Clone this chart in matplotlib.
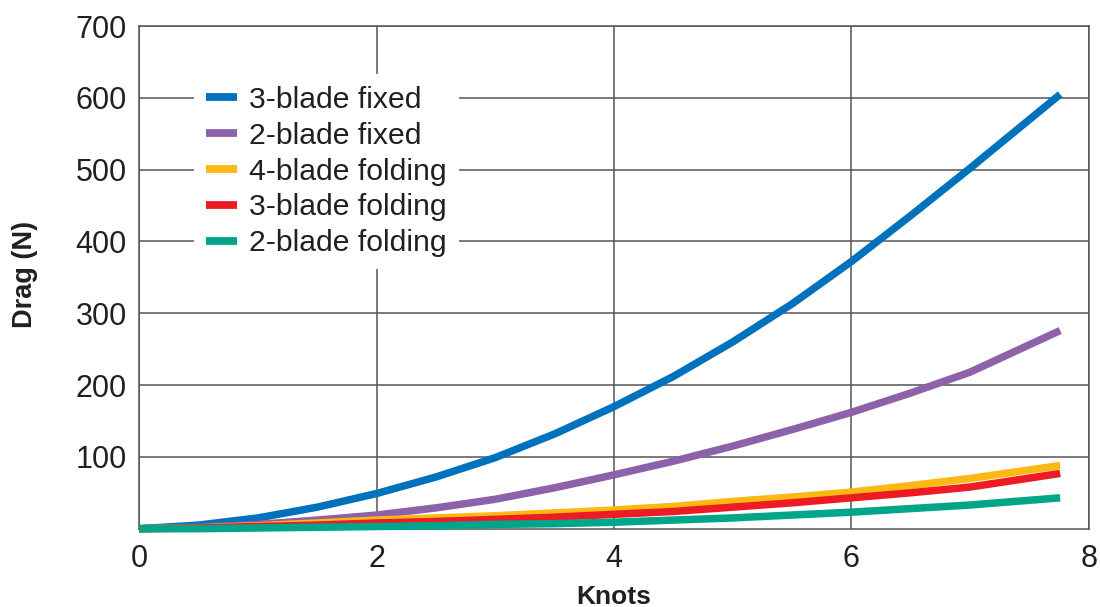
import matplotlib.pyplot as plt

plt.rcParams['font.family'] = ['Liberation Sans', 'DejaVu Sans']

# values
knots = [0, 0.5, 1, 1.5, 2, 2.5, 3, 3.5, 4, 4.5, 5, 5.5, 6, 6.5, 7, 7.76]
three_blade_fixed = [0, 5, 15, 30, 49, 72, 99, 132, 170, 212, 260, 313, 372, 436, 502, 605]
two_blade_fixed = [0, 2, 6, 12, 19, 29, 41, 57, 75, 94, 115, 138, 162, 189, 218, 276]
four_blade_folding = [0, 1, 4, 8, 12, 15, 18, 22, 26, 31, 38, 44, 51, 60, 70, 88]
three_blade_folding = [0, 1, 3, 5, 8, 10, 13, 16, 20, 24, 30, 36, 43, 50, 58, 77]
two_blade_folding = [0, 0, 1, 2, 3, 4, 6, 7, 9, 12, 15, 19, 23, 28, 33, 43]

series_names = ['3-blade fixed', '2-blade fixed', '4-blade folding',
                '3-blade folding', '2-blade folding']
series_values = [three_blade_fixed, two_blade_fixed, four_blade_folding,
                 three_blade_folding, two_blade_folding]
series_colors = ['#0071bc', '#8c63aa', '#fdb913', '#ed1c24', '#00a68a']

x_ticks = [0, 2, 4, 6, 8]
y_ticks = [100, 200, 300, 400, 500, 600, 700]

fig = plt.figure(figsize=(11, 6.07), dpi=100)
ax = fig.add_axes([0.1266, 0.129, 0.8631, 0.828])

for name, vals, col in zip(series_names, series_values, series_colors):
    ax.plot(knots, vals, color=col, lw=5.4, label=name,
            solid_capstyle='butt', solid_joinstyle='round',
            clip_on=False, zorder=3)

ax.set_xlim(0, 8)
ax.set_ylim(0, 700)
ax.set_xticks(x_ticks)
ax.set_yticks(y_ticks)
ax.tick_params(length=0, labelsize=22, colors='#231f20')
ax.tick_params(axis='x', pad=11)
ax.tick_params(axis='y', pad=9)
ax.grid(True, color='#555555', lw=1.1, zorder=1)
ax.set_axisbelow(True)
for sp in ax.spines.values():
    sp.set_color('#555555')
    sp.set_linewidth(1.1)

fig.text(25 / 1100, 1 - 274 / 607, 'Drag (N)', rotation=90, ha='center',
         va='center', fontsize=19.5, fontweight='bold', color='#231f20')
fig.text(614 / 1100, 1 - 597 / 607, 'Knots', ha='center', va='center',
         fontsize=19, fontweight='bold', color='#231f20')

leg = ax.legend(loc='upper left', bbox_to_anchor=(0.058, 0.905),
                borderaxespad=0, fontsize=21.7, frameon=True, fancybox=False,
                framealpha=1, edgecolor='none', facecolor='white',
                handlelength=1.0, handletextpad=0.42, labelspacing=0.26,
                borderpad=0.4)
for t in leg.get_texts():
    t.set_color('#231f20')
for h in leg.get_lines():
    h.set_linewidth(5.6)
leg.set_zorder(5)

fig.savefig('out.png', dpi=100)
